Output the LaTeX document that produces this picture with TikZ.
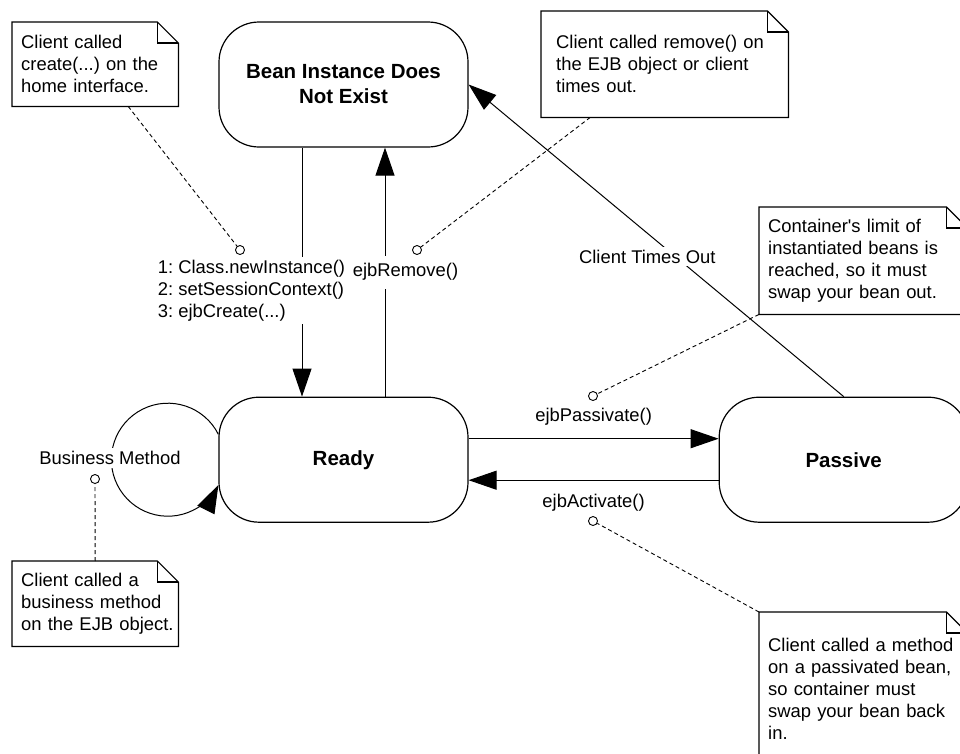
\documentclass[tikz,border=0pt]{standalone}
\usepackage{fontspec}
\setmainfont{Liberation Sans}
\usetikzlibrary{positioning,arrows.meta}
\frenchspacing

\newcommand{\plaintext}{\fontsize{18.4}{22}\selectfont}
\newcommand{\boldtext}{\fontsize{20.5}{25}\selectfont\bfseries}

\tikzset{
    beanstate/.style={draw, line width=1.2pt, rounded corners=40pt, minimum width=249pt, minimum height=125pt, align=center, font=\boldtext},
    memo/.style={anchor=north west, inner xsep=9pt, inner ysep=0pt, align=left, font=\plaintext, text width=#1},
    lbl/.style={fill=white, inner sep=3pt, font=\plaintext, align=left},
    trans/.style={line width=1pt, -{Triangle[length=28pt,width=19pt]}},
    leader/.style={line width=0.9pt, dash pattern=on 4pt off 3pt},
    tack/.style={circle, draw, fill=white, line width=0.9pt, minimum size=9pt, inner sep=0pt},
}

\begin{document}
\begin{tikzpicture}[x=1pt, y=-1pt]
    \useasboundingbox (0,0) rectangle (960,753);

    % States
    \node[beanstate] (bean) at (343.5,84.5) {Bean Instance Does\\Not Exist};
    \node[beanstate, below=249pt of bean] (ready) {Ready};
    \node[beanstate, right=250pt of ready] (passive) {Passive};

    % Transitions
    \draw[trans] ([xshift=-41.5pt]bean.south) -- node[lbl, pos=0.574, xshift=-50.5pt] (lCreate) {1: Class.newInstance()\\2: setSessionContext()\\3: ejbCreate(...)} ([xshift=-41.5pt]ready.north);
    \draw[trans] ([xshift=41.5pt]ready.north) -- node[lbl, pos=0.5, xshift=20.5pt, inner ysep=8pt] (lRemove) {ejbRemove()} ([xshift=41.5pt]bean.south);
    \draw[trans] (passive.north) -- node[lbl, pos=0.449, xshift=-28pt] (lTimeout) {Client Times Out} (bean.east);
    \draw[trans] ([yshift=21pt]ready.east) -- node[lbl, above=10pt] (lPassivate) {ejbPassivate()} ([yshift=21pt]passive.west);
    \draw[trans] ([yshift=-20.5pt]passive.west) -- node[lbl, below=10pt] (lActivate) {ejbActivate()} ([yshift=-20.5pt]ready.east);

    % Self loop on Ready
    \draw[trans] ([yshift=25.3pt]ready.west) arc[start angle=26.6, delta angle=306.8, radius=56.5pt];
    \node[lbl] (lBusiness) at (110,458) {Business Method};

    % Notes
    \node[memo=148pt, minimum height=84pt] (nCreate) at (12,22) {Client called\\create(...) on the\\home interface.};
    \node[memo=217pt, inner xsep=15pt, minimum height=106pt] (nRemove) at (541,11) {Client called remove() on\\the EJB object or client\\times out.};
    \node[memo=190pt, minimum height=107pt] (nLimit) at (759,207) {Container\textquotesingle s limit of\\instantiated beans is\\reached, so it must\\swap your bean out.};
    \node[memo=148pt, minimum height=85pt] (nBusiness) at (12,561) {Client called a\\business method\\\mbox{on the EJB object.}};
    \node[memo=190pt, minimum height=153pt] (nActivate) at (759,612) {Client called a method\\on a passivated bean,\\so container must\\swap your bean back\\in.};

    % Folded corners
    \foreach \n in {nCreate,nRemove,nLimit,nBusiness,nActivate} {
        \draw[line width=1.2pt] (\n.south west) -- (\n.north west) -- ([xshift=-21pt]\n.north east) -- ([yshift=-21pt]\n.north east) -- (\n.south east) -- cycle;
        \draw[line width=1.2pt] ([xshift=-21pt]\n.north east) |- ([yshift=-21pt]\n.north east);
    }

    % Note attachments
    \node[tack] (tCreate) at (240,250) {};
    \node[tack] (tRemove) at (417,250) {};
    \node[tack] (tLimit) at (593,396) {};
    \node[tack] (tActivate) at (593,521) {};
    \node[tack] (tBusiness) at (95,479) {};
    \draw[leader] ([xshift=33pt]nCreate.south) -- (tCreate);
    \draw[leader] ([xshift=-74.5pt]nRemove.south) -- (tRemove);
    \draw[leader] (nLimit.south west) -- (tLimit);
    \draw[leader] (nActivate.north west) -- (tActivate);
    \draw[leader] (nBusiness.north) -- (tBusiness);
\end{tikzpicture}
\end{document}
